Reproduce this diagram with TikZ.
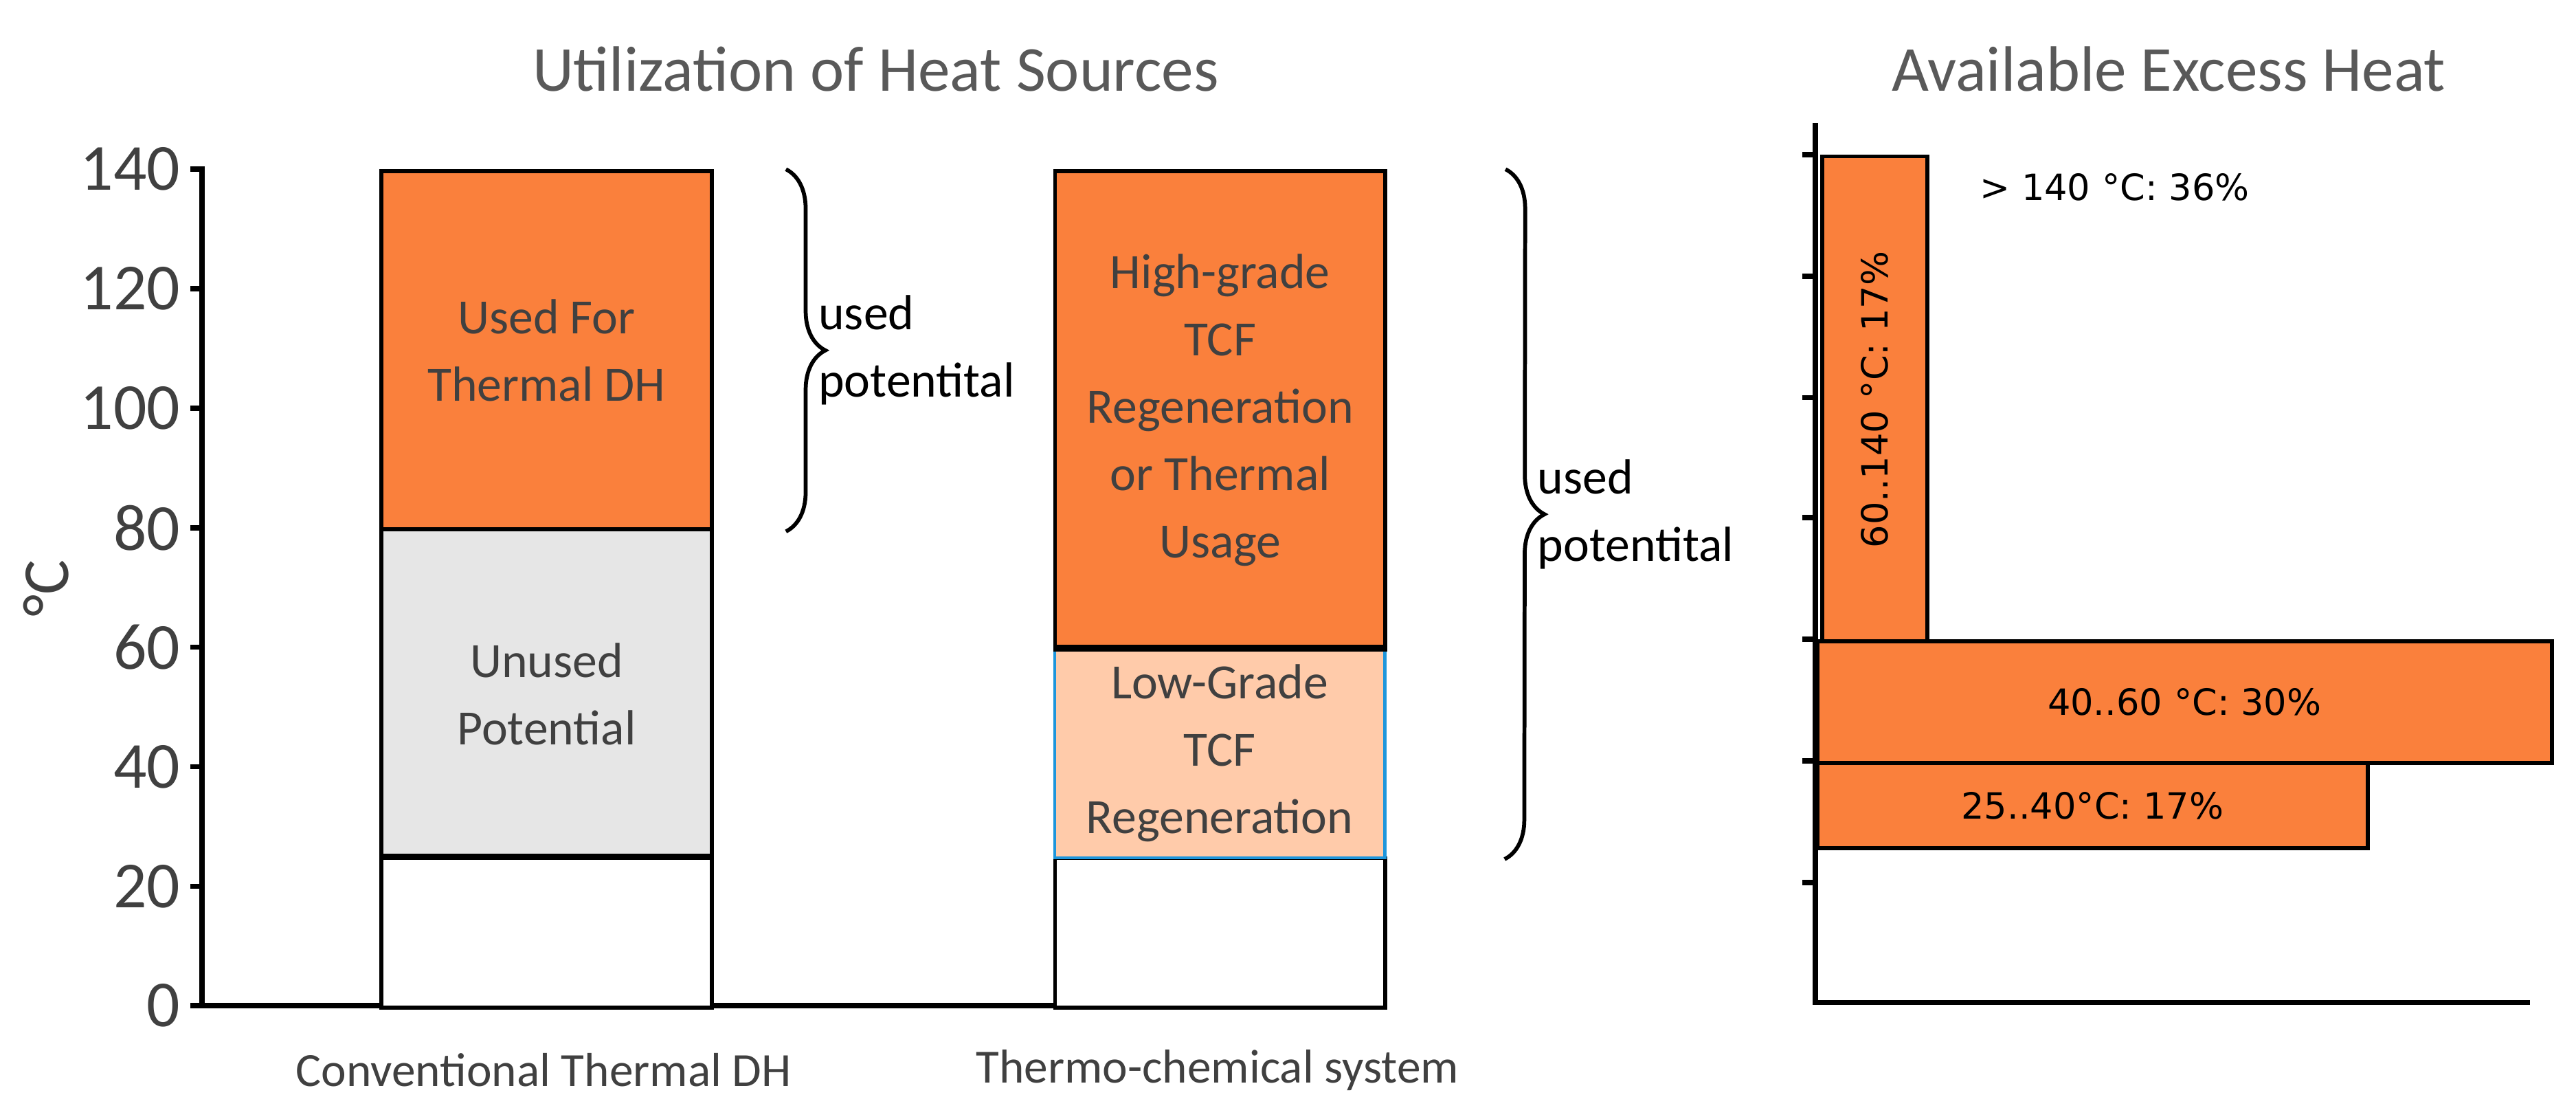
\documentclass[tikz,border=0pt]{standalone}
\usepackage{fontspec}
\setmainfont{Carlito}
\newfontfamily\verd{DejaVu Sans}
\usetikzlibrary{positioning,decorations.pathreplacing}
\definecolor{heatorange}{RGB}{250,128,60}
\definecolor{heatpeach}{RGB}{255,203,170}
\definecolor{unusedgrey}{RGB}{230,230,230}
\definecolor{textgrey}{RGB}{64,64,64}
\definecolor{titlegrey}{RGB}{89,89,89}
\definecolor{edgeblue}{RGB}{30,150,220}
\tikzset{
  bar/.style={draw=black,line width=1.2pt,anchor=north west,inner sep=0pt,align=center,text=textgrey,font=\fontsize{15}{20.5}\selectfont},
  axis/.style={line width=1.6pt},
  tick/.style={font=\fontsize{20}{20}\selectfont,text=textgrey,anchor=east,inner sep=2pt},
  heatbar/.style={draw=black,line width=1.2pt,fill=heatorange,inner sep=0pt,font=\verd\fontsize{11}{11}\selectfont},
  brace/.style={decorate,decoration={brace,amplitude=12pt},line width=1.2pt},
  title/.style={font=\fontsize{19.5}{19.5}\selectfont,text=titlegrey}
}
\begin{document}
\begin{tikzpicture}[x=0.5pt,y=0.5pt,yscale=-1]
\useasboundingbox (0,0) rectangle (1568,674);
%Titles
\node[title] (ttl) at (533,42) {Utilization of Heat Sources};
\node[title] (ttr) at (1320,42) {Available Excess Heat};
%Left axes
\draw[axis] (116,103) -- (123,103) -- (123,612) -- (842,612);
\foreach \v in {0,20,...,140}{
  \draw[axis] (116,612-3.636*\v) -- (123,612-3.636*\v);
  \node[tick] at (114,612-3.636*\v) {\v};
}
\node[rotate=90,font=\fontsize{20}{20}\selectfont,text=textgrey] (ylab) at (28,358) {°C};
%Bars (sizes in pt = half a unit)
\node[bar,fill=white,minimum width=100.5pt,minimum height=45.5pt] (basea) at (231,521) {};
\node[bar,fill=unusedgrey,minimum width=100.5pt,minimum height=100pt] (unused) at (231,321) {Unused\\Potential};
\node[bar,fill=heatorange,minimum width=100.5pt,minimum height=109pt] (useda) at (231,103) {Used For\\Thermal DH};
\node[bar,fill=white,minimum width=100.5pt,minimum height=45.5pt] (baseb) at (641,521) {};
\node[bar,draw=edgeblue,line width=0.9pt,fill=heatpeach,minimum width=100.5pt,minimum height=63.5pt] (lowg) at (641,394) {Low-Grade\\TCF\\Regeneration};
\node[bar,fill=heatorange,minimum width=100.5pt,minimum height=145.5pt] (highg) at (641,103) {High-grade\\TCF\\Regeneration\\or Thermal\\Usage};
\draw[line width=1.6pt] (lowg.north west) -- (lowg.north east);
\draw[line width=1.6pt] (basea.north west) -- (basea.north east);
%Braces
\draw[brace] ([xshift=22]useda.north east) -- ([xshift=22]useda.south east) node[midway,right=12,align=left,font=\fontsize{15}{20.5}\selectfont] (upa) {used\\potentital};
\draw[brace] ([xshift=36]highg.north east) -- ([xshift=36]lowg.south east) node[midway,right=12,align=left,font=\fontsize{15}{20.5}\selectfont] (upb) {used\\potentital};
%Categories
\node[font=\fontsize{14.5}{14.5}\selectfont,text=textgrey] (cata) at (331,651) {Conventional Thermal DH};
\node[font=\fontsize{14.5}{14.5}\selectfont,text=textgrey] (catb) at (741,651) {Thermo-chemical system};
%Right chart
\draw[axis] (1105,75) -- (1105,610) -- (1540,610);
\foreach \ty in {94,168,242,315,389,463,537}
  \draw[axis] (1097,\ty) -- (1105,\ty);
\node[heatbar,anchor=north west,minimum width=32pt,minimum height=148pt] (hot) at (1108,94) {};
\node[rotate=90,font=\verd\fontsize{11}{11}\selectfont] (hotl) at (hot.center) {60..140 °C: 17\%};
\node[heatbar,anchor=north west,minimum width=223.5pt,minimum height=37pt] (mid) at (1105,389) {40..60 °C: 30\%};
\node[heatbar,anchor=north west,minimum width=167.5pt,minimum height=26pt] (low) at (1105,463) {25..40°C: 17\%};
\node[font=\verd\fontsize{11}{11}\selectfont,anchor=west] (over) at (1198,114) {> 140 °C: 36\%};
\end{tikzpicture}
\end{document}
